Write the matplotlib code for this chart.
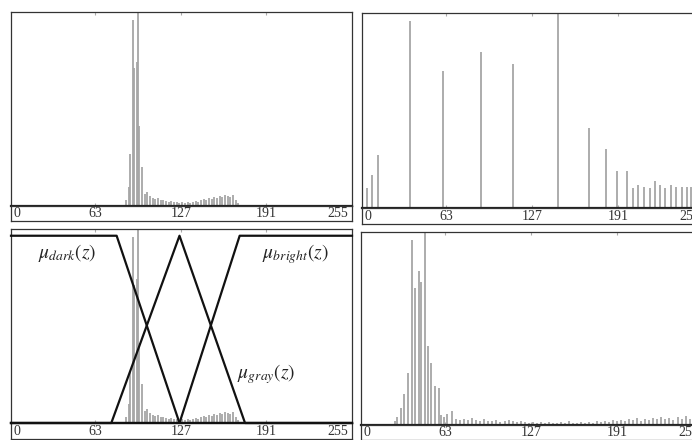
import numpy as np
import matplotlib
matplotlib.use("Agg")
import matplotlib.pyplot as plt

plt.rcParams['mathtext.fontset'] = 'stix'

# histogram of the original image (gray level, normalized count)
orig_levels = [86, 88, 89, 91, 92, 94, 95, 96, 98, 100, 102, 104, 106, 108, 110,
               112, 114, 116, 118, 120, 122, 124, 126, 128, 130, 132, 134, 136,
               138, 140, 142, 144, 146, 148, 150, 152, 154, 156, 158, 160, 162,
               164, 166, 168, 170]
orig_counts = [0.03, 0.10, 0.27, 0.96, 0.71, 0.74, 1.00, 0.41, 0.20, 0.06, 0.07,
               0.05, 0.04, 0.035, 0.04, 0.03, 0.03, 0.025, 0.02, 0.025, 0.02,
               0.02, 0.015, 0.02, 0.015, 0.02, 0.015, 0.02, 0.025, 0.02, 0.03,
               0.035, 0.03, 0.04, 0.035, 0.045, 0.04, 0.05, 0.045, 0.055, 0.05,
               0.045, 0.055, 0.03, 0.015]

# histogram after equalization
eq_levels = [3.5, 7.7, 11.7, 35.8, 60.7, 88.8, 112.9, 146, 169.6, 181.8, 190,
             197.5, 201.7, 205.5, 210, 214.4, 218.1, 222.4, 226.1, 230.4, 234.3,
             238.6, 242.3, 245.3, 249, 252.5]
eq_counts = [0.10, 0.17, 0.27, 0.96, 0.70, 0.80, 0.74, 1.00, 0.41, 0.30, 0.19,
             0.19, 0.10, 0.12, 0.11, 0.10, 0.14, 0.12, 0.10, 0.12, 0.11, 0.11,
             0.11, 0.11, 0.11, 0.11]

# histogram after fuzzy enhancement
fz_levels = [25, 27, 30, 32, 35, 38, 40, 43, 45, 48, 50, 52, 55, 58, 60, 62, 64,
             68, 71, 74, 77, 80, 83, 86, 89, 92, 95, 98, 101, 104, 107, 110, 113,
             116, 119, 122, 125, 128, 131, 134, 137, 140, 143, 146, 149, 152, 155,
             158, 161, 164, 167, 170, 173, 176, 179, 182, 185, 188, 191, 194, 197,
             200, 203, 206, 209, 212, 215, 218, 221, 224, 227, 230, 233, 236, 239,
             242, 245, 248, 251, 254]
fz_counts = [0.02, 0.04, 0.09, 0.16, 0.27, 0.96, 0.71, 0.80, 0.74, 1.00, 0.41,
             0.32, 0.20, 0.19, 0.05, 0.04, 0.055, 0.07, 0.03, 0.025, 0.03, 0.025,
             0.035, 0.025, 0.02, 0.03, 0.02, 0.02, 0.025, 0.015, 0.02, 0.025,
             0.02, 0.015, 0.02, 0.015, 0.01, 0.015, 0.01, 0.015, 0.01, 0.015,
             0.01, 0.01, 0.015, 0.01, 0.02, 0.01, 0.01, 0.015, 0.01, 0.015, 0.01,
             0.02, 0.015, 0.02, 0.015, 0.025, 0.02, 0.025, 0.02, 0.03, 0.025,
             0.035, 0.02, 0.03, 0.025, 0.035, 0.03, 0.04, 0.03, 0.035, 0.025,
             0.04, 0.03, 0.045, 0.03, 0.035, 0.03, 0.03]

# membership functions (breakpoints)
mu_z = [0, 79, 126, 171, 255]
mu_dark = [1, 1, 0, 0, 0]
gray_z = [0, 75, 126, 175, 255]
mu_gray = [0, 0, 1, 0, 0]
bright_z = [0, 126, 171, 255]
mu_bright = [0, 0, 1, 1]

tick_vals = [0, 63, 127, 191, 255]

W, H = 692, 440
fig = plt.figure(figsize=(W / 100, H / 100), dpi=100)


def box(x0, y0, x1, y1):
    return [x0 / W, 1 - y1 / H, (x1 - x0) / W, (y1 - y0) / H]


def panel(x0, x1, ytop, yline, ybot, levels, counts):
    ax = fig.add_axes(box(x0, ytop, x1, yline))
    ax.vlines(levels, 0, counts, color='#a6a6a6', lw=1.3)
    ax.set_xlim(0, 255)
    ax.set_ylim(0, 1.0)
    ax.set_xticks(tick_vals[1:-1])
    ax.set_yticks([])
    ax.tick_params(axis='x', direction='in', length=2.5, color='#aaaaaa',
                   top=True, bottom=True, labelbottom=False)
    for s in ax.spines.values():
        s.set_color('#333333')
        s.set_linewidth(0.9)
    ax.spines['bottom'].set_linewidth(1.6)
    ax.spines['bottom'].set_color('#222222')

    st = fig.add_axes(box(x0, yline, x1, ybot))
    st.set_xlim(0, 255)
    st.set_ylim(0, 1)
    st.set_xticks([])
    st.set_yticks([])
    for s in st.spines.values():
        s.set_color('#333333')
        s.set_linewidth(0.9)
    for v in tick_vals:
        if v == 0:
            st.text(2, 0.5, str(v), ha='left', va='center', family='Liberation Serif',
                    fontsize=10, color='#333333')
        elif v == 255:
            st.text(252, 0.5, str(v), ha='right', va='center', family='Liberation Serif',
                    fontsize=10, color='#333333')
        else:
            st.text(v, 0.5, str(v), ha='center', va='center', family='Liberation Serif',
                    fontsize=10, color='#333333')
    return ax


panel(11, 352, 12, 206, 221, orig_levels, orig_counts)
panel(362, 704, 13, 208, 224, eq_levels, eq_counts)
ax_bl = panel(11, 352, 229, 423, 439, orig_levels, orig_counts)
panel(361, 703, 232, 425, 440, fz_levels, fz_counts)

mu = ax_bl.twinx()
mu.set_ylim(0, 1.036)
mu.set_yticks([])
for s in mu.spines.values():
    s.set_visible(False)
mu.plot(mu_z, mu_dark, color='#111111', lw=1.6, clip_on=False)
mu.plot(gray_z, mu_gray, color='#111111', lw=1.6, clip_on=False)
mu.plot(bright_z, mu_bright, color='#111111', lw=1.6, clip_on=False)
mu.text(20, 0.88, r'$\mu_{dark}(z)$', fontsize=14, color='#222222')
mu.text(188, 0.88, r'$\mu_{bright}(z)$', fontsize=14, color='#222222')
mu.text(169, 0.24, r'$\mu_{gray}(z)$', fontsize=14, color='#222222')

fig.savefig('out.png', dpi=100)
